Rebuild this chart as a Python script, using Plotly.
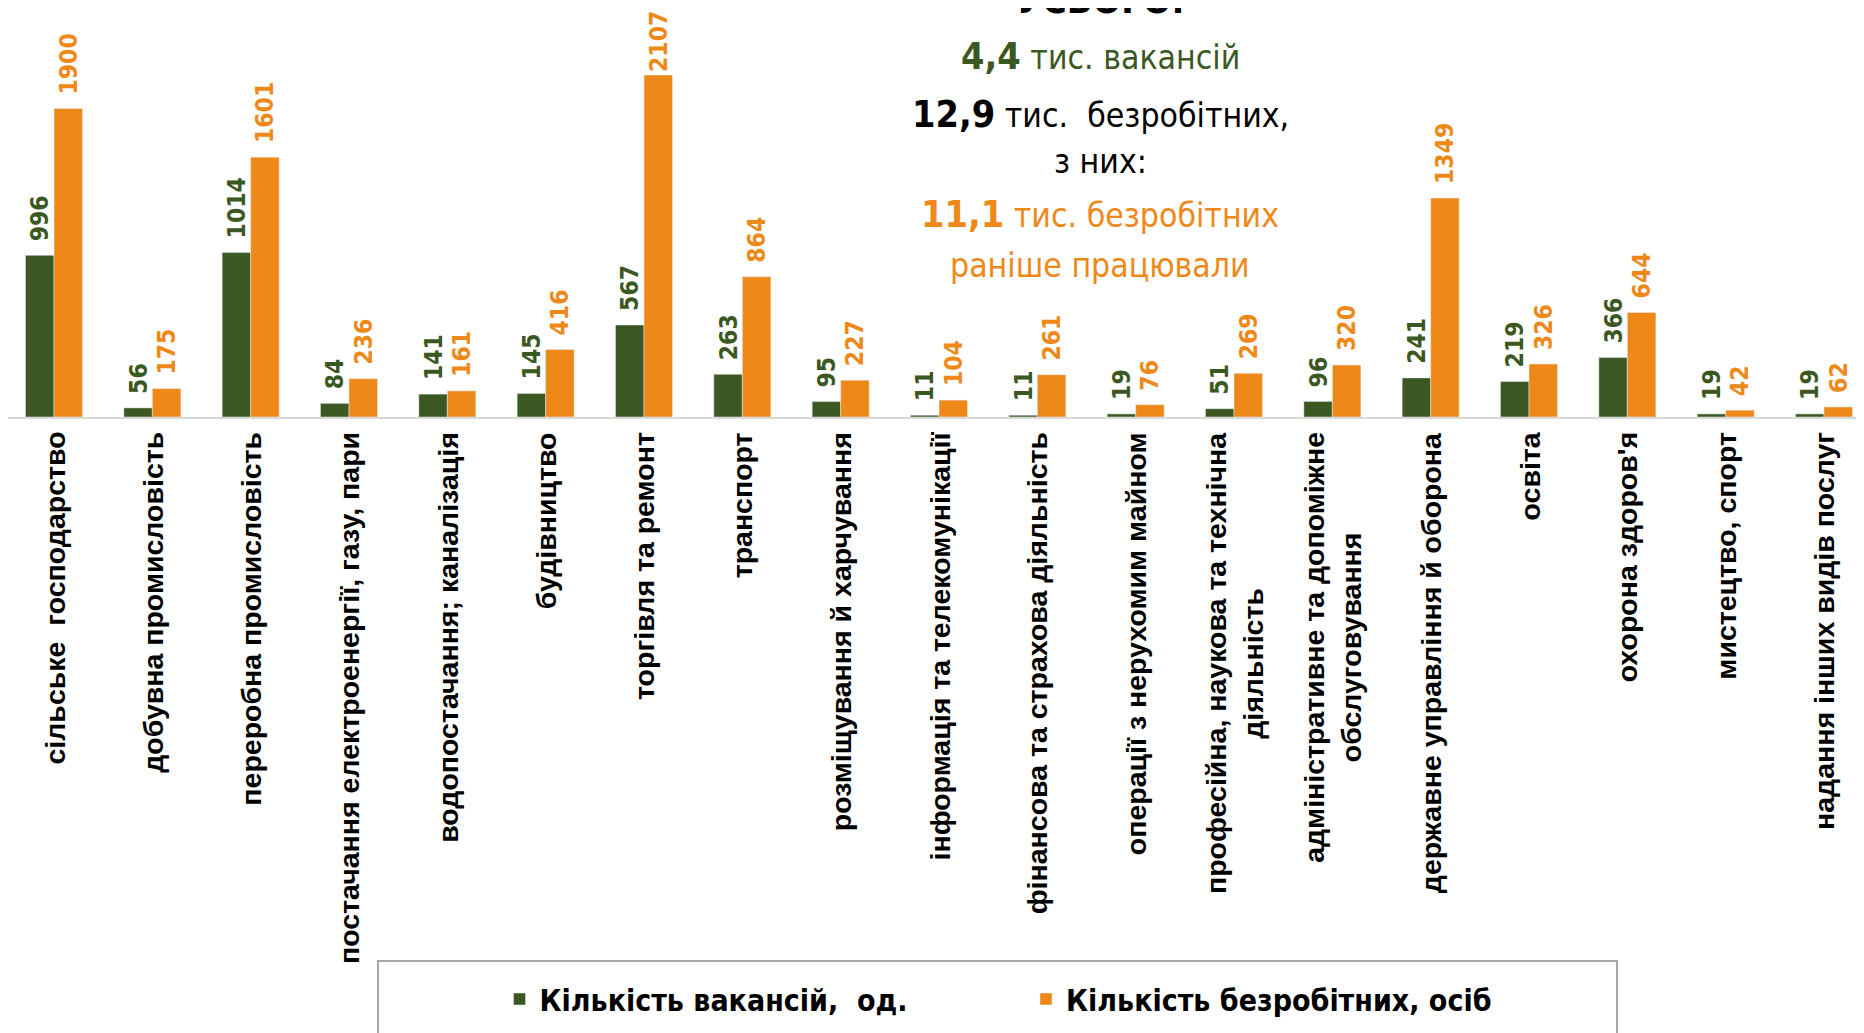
import plotly.graph_objects as go

# ---------------- data ----------------
categories = [
    "сільське господарство", "добувна промисловість", "переробна промисловість",
    "постачання електроенергії, газу, пари", "водопостачання; каналізація",
    "будівництво", "торгівля та ремонт", "транспорт", "розміщування й харчування",
    "інформація та телекомунікації", "фінансова та страхова діяльність",
    "операції з нерухомим майном", "професійна, наукова та технічна діяльність",
    "адміністративне та допоміжне обслуговування", "державне управління й оборона",
    "освіта", "охорона здоров'я", "мистецтво, спорт", "надання інших видів послуг",
]
tick_labels = [
    "сільське\u00a0 господарство", "добувна промисловість", "переробна промисловість",
    "постачання електроенергії, газу, пари", "водопостачання; каналізація",
    "будівництво", "торгівля та ремонт", "транспорт", "розміщування й харчування",
    "інформація та телекомунікації", "фінансова та страхова діяльність",
    "операції з нерухомим майном", "професійна, наукова та технічна<br>діяльність",
    "адміністративне та допоміжне<br>обслуговування", "державне управління й оборона",
    "освіта", "охорона здоров'я", "мистецтво, спорт", "надання інших видів послуг",
]
vacancies = [996, 56, 1014, 84, 141, 145, 567, 263, 95, 11, 11, 19, 51, 96, 241, 219, 366, 19, 19]
unemployed = [1900, 175, 1601, 236, 161, 416, 2107, 864, 227, 104, 261, 76, 269, 320, 1349, 326, 644, 42, 62]
series_names = ["Кількість вакансій,\u00a0 од.", "Кількість безробітних, осіб"]

GREEN = "#3B5823"
ORANGE = "#EE8919"
COND = "DejaVu Sans Condensed, DejaVu Sans, sans-serif"
ARIAL = "Liberation Sans, Arial, sans-serif"

OFF = 8                      # page body margin
W, H = 1864 - OFF, 1033 - OFF
PLOT_H = 417 - OFF           # plot area height (top margin 0)
PX_PER_UNIT = 342 / 2107
Y_MAX = PLOT_H / PX_PER_UNIT
LABEL_SIZE = 24.5


def px_x(x):
    return (x - OFF) / W


def px_y(y):
    """screen pixel row -> paper y"""
    return (PLOT_H - (y - OFF)) / PLOT_H


def label_texts(vals):
    # a leading en-space keeps labels clear of the bar, unless the label would leave the chart
    out = []
    for v in vals:
        s = str(v)
        need = (len(s) * 0.626 + 0.5) * LABEL_SIZE + 6
        room = (Y_MAX - v) * PX_PER_UNIT
        out.append(("\u2002" + s) if room > need else s)
    return out


fig = go.Figure()
for vals, name, col in [(vacancies, series_names[0], GREEN), (unemployed, series_names[1], ORANGE)]:
    fig.add_trace(go.Bar(
        x=categories, y=vals, name=name,
        marker=dict(color=col),
        text=label_texts(vals), texttemplate="%{text}", textposition="outside", textangle=-90,
        textfont=dict(family=COND, size=LABEL_SIZE, color=col, weight="bold"),
        constraintext="none", cliponaxis=False, hoverinfo="x+y",
    ))

annotations = []
for cat, lab in zip(categories, tick_labels):
    annotations.append(dict(
        x=cat, y=0, xref="x", yref="y", text=lab, showarrow=False,
        textangle=-90, xanchor="center", yanchor="top", yshift=-13,
        align="center",
        font=dict(family=ARIAL, size=28.5, color="black", weight="bold"),
    ))

BIG = 37.5
REG = 33.5
title_lines = [
    ("<b>УСЬОГО:</b>", "black", 0, BIG),
    ('<b><span style="font-size:%spx">4,4</span></b> тис. вакансій' % BIG, GREEN, 56, REG),
    ('<b><span style="font-size:%spx">12,9</span></b> тис.\u00a0 безробітних,' % BIG, "black", 114, REG),
    ("з них:", "black", 161, REG),
    ('<b><span style="font-size:%spx">11,1</span></b> тис. безробітних' % BIG, ORANGE, 214, REG),
    ("раніше працювали", ORANGE, 265, REG),
]
for txt, col, ypx, size in title_lines:
    annotations.append(dict(
        x=px_x(1100), y=px_y(ypx), xref="paper", yref="paper", text=txt, showarrow=False,
        xanchor="center", yanchor="middle",
        font=dict(family=COND, size=size, color=col),
    ))

fig.update_layout(
    width=W, height=H,
    margin=dict(l=0, r=0, t=0, b=H - PLOT_H, pad=0),
    paper_bgcolor="white", plot_bgcolor="white",
    barmode="group", bargap=0.42, bargroupgap=0,
    xaxis=dict(
        type="category", range=[-(54 - OFF) / 98.33, 18 + (1864 - 1824) / 98.33],
        showticklabels=False,
        showline=True, linecolor="#D9D9D9", linewidth=2, ticks="",
        showgrid=False, zeroline=False, automargin=False, fixedrange=True,
    ),
    yaxis=dict(range=[0, Y_MAX], visible=False, automargin=False, fixedrange=True),
    showlegend=True,
    legend=dict(
        orientation="h", x=px_x(499.5), xanchor="left", y=px_y(999), yanchor="middle",
        entrywidth=481.5, entrywidthmode="pixels",
        font=dict(family=COND, size=30, color="black", weight="bold"),
        bgcolor="rgba(0,0,0,0)", borderwidth=0,
    ),
    annotations=annotations,
    shapes=[dict(
        type="rect", xref="paper", yref="paper",
        x0=px_x(378), x1=px_x(1617), y0=px_y(1045), y1=px_y(961),
        line=dict(color="#A6A6A6", width=2), fillcolor="rgba(0,0,0,0)", layer="above",
    )],
)

fig.write_html("out.html")
